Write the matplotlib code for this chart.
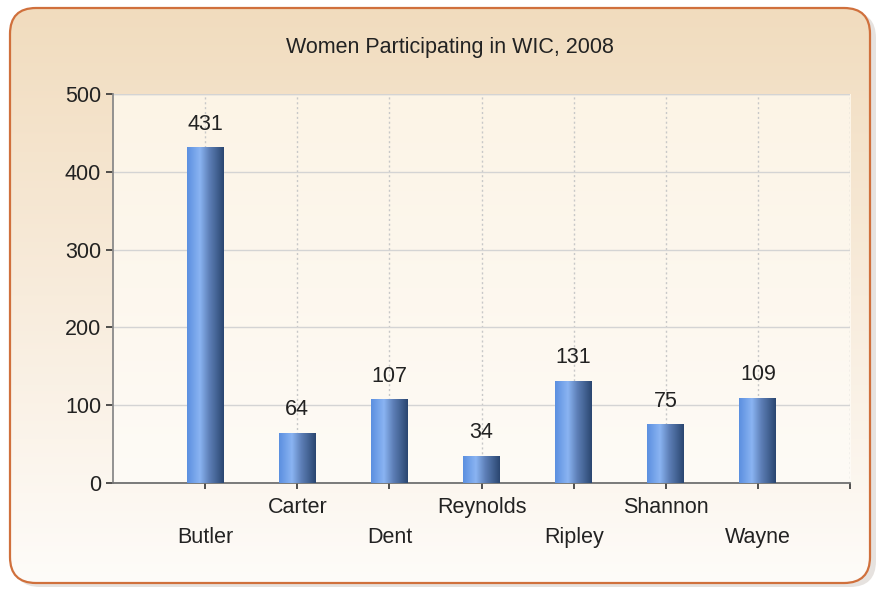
import numpy as np
import matplotlib
matplotlib.use("Agg")
import matplotlib.pyplot as plt
from matplotlib.patches import FancyBboxPatch
from matplotlib.colors import LinearSegmentedColormap
import matplotlib.transforms as mtransforms

counties = ["Butler", "Carter", "Dent", "Reynolds", "Ripley", "Shannon", "Wayne"]
women = [431, 64, 107, 34, 131, 75, 109]
title = "Women Participating in WIC, 2008"

plt.rcParams['font.family'] = ['Liberation Sans', 'DejaVu Sans']
fs = 15.5

fig = plt.figure(figsize=(8.8, 5.89), dpi=100)
fig.patch.set_facecolor("white")

# background panel: shadow, gradient fill, orange border
bg = fig.add_axes([0, 0, 1, 1])
bg.set_xlim(0, 880)
bg.set_ylim(589, 0)
bg.axis("off")

shadow = FancyBboxPatch((14, 12), 862, 575, boxstyle="round,pad=0,rounding_size=26",
                        facecolor="#c8c0b8", edgecolor="none", alpha=0.45)
bg.add_patch(shadow)
panel = FancyBboxPatch((10, 8), 860, 575, boxstyle="round,pad=0,rounding_size=26",
                       facecolor="none", edgecolor="#d0703c", linewidth=1.6, zorder=3)
bg.add_patch(panel)
panel_cmap = LinearSegmentedColormap.from_list("panel", ["#f1dcbe", "#f8ecdc", "#fefcf9"])
grad = np.linspace(0, 1, 256).reshape(-1, 1)
im = bg.imshow(grad, cmap=panel_cmap, extent=[10, 870, 583, 8], aspect="auto", zorder=1)
im.set_clip_path(panel)

ax = fig.add_axes([113 / 880, 106 / 589, 737 / 880, 389 / 589])
ax.set_facecolor("none")

# plot area fill
area_cmap = LinearSegmentedColormap.from_list("area", ["#fcf4e6", "#fefbf6"])
ax.imshow(grad, cmap=area_cmap, extent=[0, 8, 0, 500], aspect="auto", zorder=0)

x = np.arange(1, len(counties) + 1)
bars = ax.bar(x, women, width=0.4, facecolor="none", edgecolor="none", zorder=3)

bar_cmap = LinearSegmentedColormap.from_list(
    "bar", [(0, "#5b8fe0"), (0.35, "#8ab4f2"), (0.6, "#5e80b8"), (1, "#2a4670")])
hgrad = np.linspace(0, 1, 256).reshape(1, -1)
for b, v in zip(bars, women):
    x0 = b.get_x()
    w = b.get_width()
    ax.imshow(hgrad, cmap=bar_cmap, extent=[x0, x0 + w, 0, v], aspect="auto", zorder=3)
    ax.annotate(str(v), (x0 + w / 2, v), xytext=(0, 17), textcoords="offset points",
                ha="center", va="center", fontsize=fs, color="#222222", zorder=4)

ax.set_aspect("auto")
ax.set_xlim(0, 8)
ax.set_ylim(0, 500)

ax.set_yticks(np.arange(0, 501, 100))
ax.set_xticks(list(x) + [8])
ax.set_xticklabels([])
ax.tick_params(axis="y", labelsize=fs, colors="#222222", length=5, width=1.2, direction="out")
ax.tick_params(axis="x", length=4, width=1.2, direction="out", color="#333333")
ax.tick_params(axis="y", color="#333333")

ax.grid(axis="y", color="#d4d4d4", linewidth=1, zorder=1)
for xi in list(x) + [8]:
    ax.axvline(xi, color="#c8c8c8", linestyle=(0, (1.5, 2)), linewidth=1, zorder=1)
ax.axhline(500, color="#d4d4d4", linewidth=1, zorder=1)

for side in ["top", "right"]:
    ax.spines[side].set_visible(False)
ax.spines["left"].set_color("#8a8a8a")
ax.spines["bottom"].set_color("#707070")
ax.spines["left"].set_linewidth(1.3)
ax.spines["bottom"].set_linewidth(1.3)

trans = mtransforms.blended_transform_factory(ax.transData, ax.transAxes)
for i, (xi, name) in enumerate(zip(x, counties)):
    yy = -0.141 if i % 2 == 0 else -0.062
    ax.text(xi, yy, name, transform=trans, ha="center", va="center", fontsize=fs,
            color="#222222")

fig.text(450 / 880, 1 - 48 / 589, title, ha="center", va="center", fontsize=fs,
         color="#222222")

fig.savefig("out.png", dpi=100)
